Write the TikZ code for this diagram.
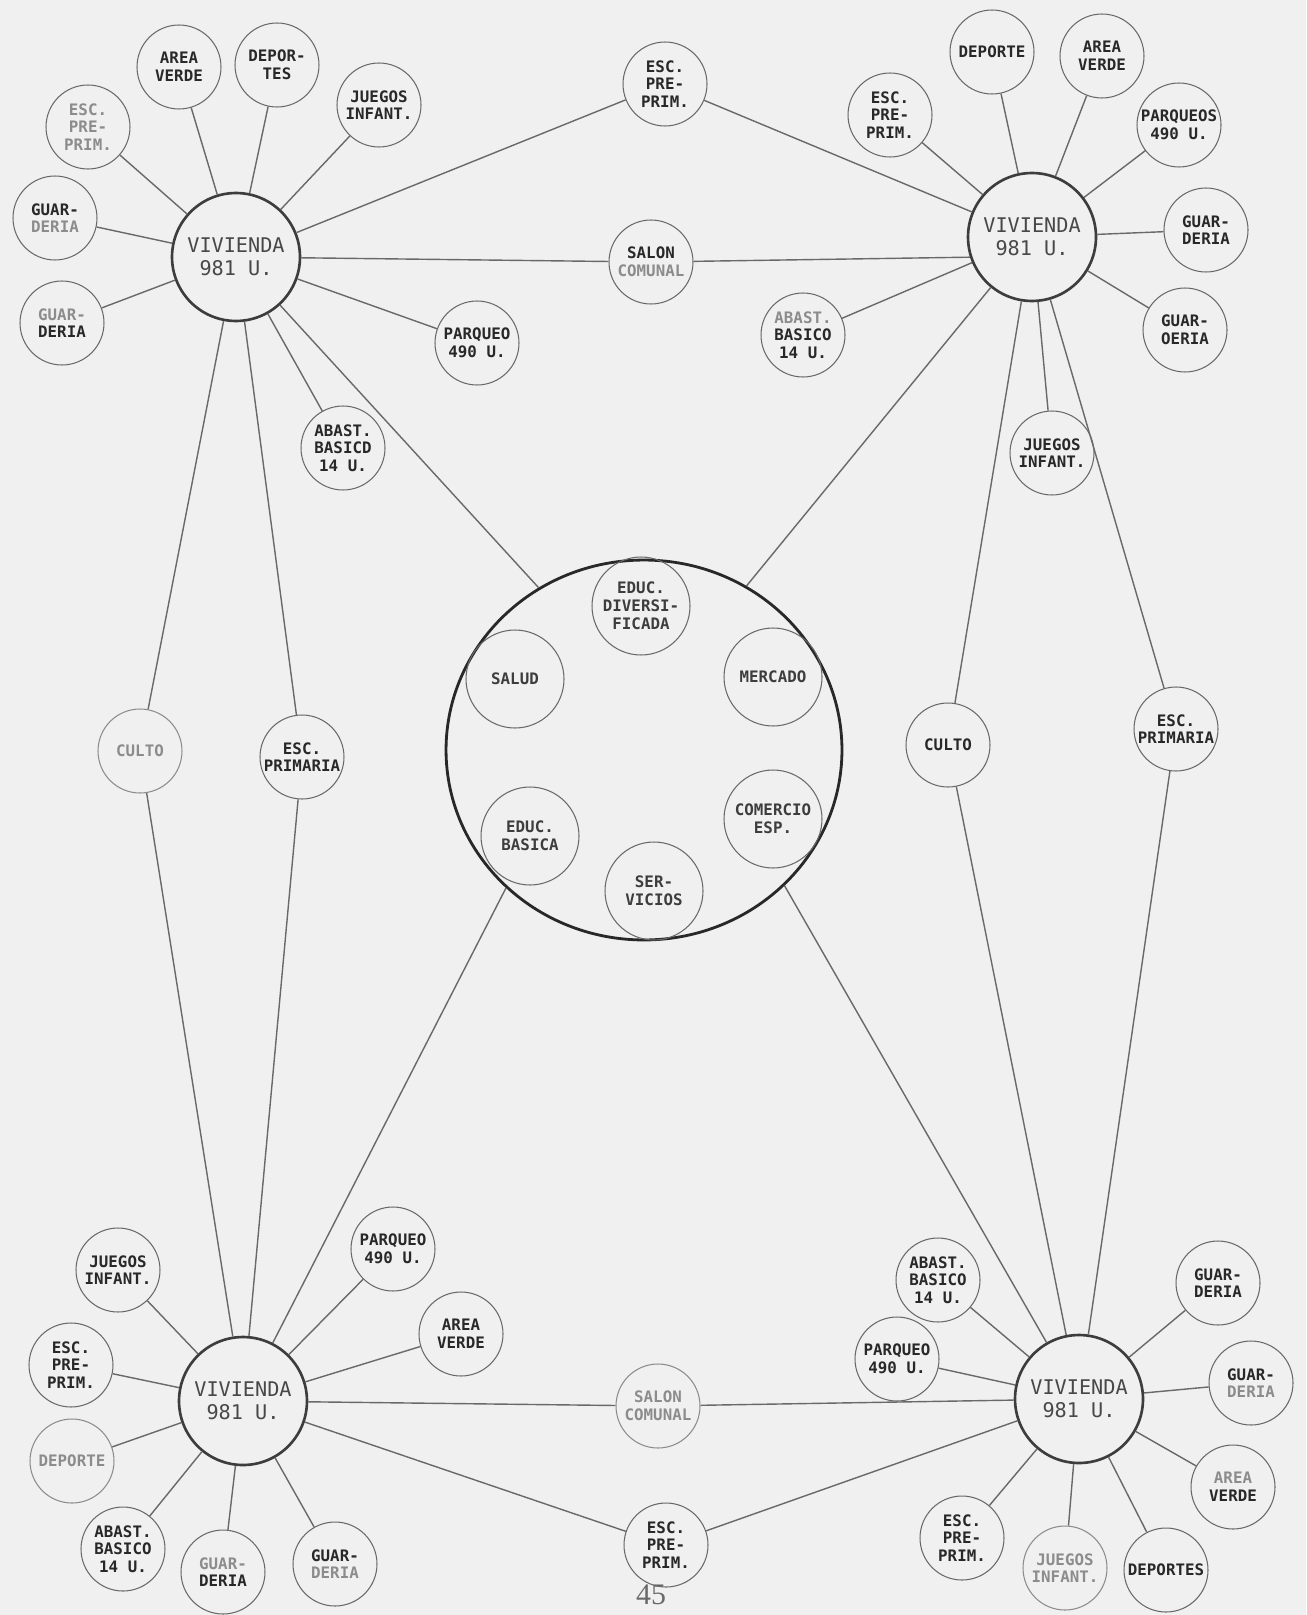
\documentclass[tikz,border=0pt]{standalone}
\usepackage{fontspec}
\usepackage{tikz}
\usetikzlibrary{shapes.geometric}
\usepackage{xcolor}
\setmainfont{Liberation Serif}
\newfontfamily\rotulo{DejaVu Sans Mono}
\definecolor{papel}{RGB}{240,240,240}
\definecolor{trazo}{RGB}{105,105,105}
\definecolor{tinta}{RGB}{40,40,40}
\definecolor{tenue}{RGB}{140,140,140}

\tikzset{
    enlace/.style={draw=trazo,line width=0.8pt},
    equipo/.style={circle,draw=trazo,line width=0.6pt,minimum size=1.68cm,inner sep=0pt,align=center,text=tinta,font=\rotulo\bfseries\fontsize{9}{10}\selectfont},
    equipotenue/.style={equipo,draw=tenue,text=tenue},
    vivienda/.style={circle,draw=tinta!90,line width=1.5pt,minimum size=2.56cm,inner sep=0pt,align=center,text=tinta!85,font=\rotulo\fontsize{11.5}{13}\selectfont},
    nucleo/.style={ellipse,draw=tinta,line width=1.6pt,minimum width=7.92cm,minimum height=7.6cm,inner sep=0pt},
    central/.style={circle,draw=trazo,line width=0.6pt,minimum size=1.96cm,inner sep=0pt,align=center,text=tinta!90,font=\rotulo\bfseries\fontsize{9}{10.2}\selectfont}
}

\begin{document}
\begin{tikzpicture}[x=0.02cm,y=-0.02cm]
        \path[use as bounding box,fill=papel] (0,0) rectangle (1306,1615);

        % Vivienda noroeste
        \node[vivienda] (vno) at (236,257) {VIVIENDA\\981 U.};
        \node[equipo] (no-area) at (179,67) {AREA\\VERDE};
        \node[equipo] (no-dep) at (277,65) {DEPOR-\\TES};
        \node[equipo] (no-jue) at (379,105) {JUEGOS\\INFANT.};
        \node[equipo,text=tenue] (no-esc) at (88,127) {ESC.\\PRE-\\PRIM.};
        \node[equipo] (no-gua1) at (55,218) {GUAR-\\\textcolor{tenue}{DERIA}};
        \node[equipo] (no-gua2) at (62,323) {\textcolor{tenue}{GUAR-}\\DERIA};
        \node[equipo] (no-par) at (477,343) {PARQUEO\\490 U.};
        \node[equipo] (no-aba) at (343,448) {ABAST.\\BASICD\\14 U.};

        % Vivienda noreste
        \node[vivienda] (vne) at (1032,237) {VIVIENDA\\981 U.};
        \node[equipo] (ne-dep) at (992,52) {DEPORTE};
        \node[equipo] (ne-area) at (1102,56) {AREA\\VERDE};
        \node[equipo] (ne-par) at (1179,125) {PARQUEOS\\490 U.};
        \node[equipo] (ne-esc) at (890,115) {ESC.\\PRE-\\PRIM.};
        \node[equipo] (ne-gua1) at (1206,230) {GUAR-\\DERIA};
        \node[equipo] (ne-gua2) at (1185,330) {GUAR-\\OERIA};
        \node[equipo] (ne-aba) at (803,335) {\textcolor{tenue}{ABAST.}\\BASICO\\14 U.};
        \node[equipo] (ne-jue) at (1052,453) {JUEGOS\\INFANT.};

        % Equipamiento compartido arriba
        \node[equipo] (n-esc) at (665,84) {ESC.\\PRE-\\PRIM.};
        \node[equipo] (n-sal) at (651,262) {SALON\\\textcolor{tenue}{COMUNAL}};

        % Centro
        \node[nucleo] (centro) at (644,750) {};
        \node[central] (c-div) at (641,606) {EDUC.\\DIVERSI-\\FICADA};
        \node[central] (c-sal) at (515,679) {SALUD};
        \node[central] (c-mer) at (773,677) {MERCADO};
        \node[central] (c-com) at (773,819) {COMERCIO\\ESP.};
        \node[central] (c-bas) at (530,836) {EDUC.\\BASICA};
        \node[central] (c-ser) at (654,891) {SER-\\VICIOS};

        % Equipamiento compartido a los lados
        \node[equipotenue] (o-cul) at (140,751) {CULTO};
        \node[equipo] (o-esc) at (302,757) {ESC.\\PRIMARIA};
        \node[equipo] (e-cul) at (948,745) {CULTO};
        \node[equipo] (e-esc) at (1176,729) {ESC.\\PRIMARIA};

        % Vivienda suroeste
        \node[vivienda] (vso) at (243,1401) {VIVIENDA\\981 U.};
        \node[equipo] (so-jue) at (118,1270) {JUEGOS\\INFANT.};
        \node[equipo] (so-esc) at (71,1365) {ESC.\\PRE-\\PRIM.};
        \node[equipotenue] (so-dep) at (72,1461) {DEPORTE};
        \node[equipo] (so-aba) at (123,1549) {ABAST.\\BASICO\\14 U.};
        \node[equipo] (so-gua1) at (223,1572) {\textcolor{tenue}{GUAR-}\\DERIA};
        \node[equipo] (so-gua2) at (335,1564) {GUAR-\\\textcolor{tenue}{DERIA}};
        \node[equipo] (so-par) at (393,1249) {PARQUEO\\490 U.};
        \node[equipo] (so-area) at (461,1334) {AREA\\VERDE};

        % Vivienda sureste
        \node[vivienda] (vse) at (1079,1399) {VIVIENDA\\981 U.};
        \node[equipo] (se-aba) at (938,1280) {ABAST.\\BASICO\\14 U.};
        \node[equipo] (se-par) at (897,1359) {PARQUEO\\490 U.};
        \node[equipo] (se-gua1) at (1218,1283) {GUAR-\\DERIA};
        \node[equipo] (se-gua2) at (1251,1383) {GUAR-\\\textcolor{tenue}{DERIA}};
        \node[equipo] (se-area) at (1233,1487) {\textcolor{tenue}{AREA}\\VERDE};
        \node[equipo] (se-dep) at (1166,1570) {DEPORTES};
        \node[equipotenue] (se-jue) at (1065,1568) {JUEGOS\\INFANT.};
        \node[equipo] (se-esc) at (962,1538) {ESC.\\PRE-\\PRIM.};

        % Equipamiento compartido abajo
        \node[equipotenue] (s-sal) at (658,1406) {SALON\\COMUNAL};
        \node[equipo] (s-esc) at (666,1545) {ESC.\\PRE-\\PRIM.};

        \node[text=trazo,font=\fontsize{17}{17}\selectfont] (pagina) at (651,1595) {45};

        % Enlaces de cada vivienda
        \draw[enlace] (vno) -- (no-area) (vno) -- (no-dep) (vno) -- (no-jue) (vno) -- (no-esc)
            (vno) -- (no-gua1) (vno) -- (no-gua2) (vno) -- (no-par) (vno) -- (no-aba);
        \draw[enlace] (vne) -- (ne-dep) (vne) -- (ne-area) (vne) -- (ne-par) (vne) -- (ne-esc)
            (vne) -- (ne-gua1) (vne) -- (ne-gua2) (vne) -- (ne-aba) (vne) -- (ne-jue);
        \draw[enlace] (vso) -- (so-jue) (vso) -- (so-esc) (vso) -- (so-dep) (vso) -- (so-aba)
            (vso) -- (so-gua1) (vso) -- (so-gua2) (vso) -- (so-par) (vso) -- (so-area);
        \draw[enlace] (vse) -- (se-aba) (vse) -- (se-par) (vse) -- (se-gua1) (vse) -- (se-gua2)
            (vse) -- (se-area) (vse) -- (se-dep) (vse) -- (se-jue) (vse) -- (se-esc);

        % Enlaces entre viviendas
        \draw[enlace] (vno) -- (n-esc) -- (vne);
        \draw[enlace] (vno) -- (n-sal) -- (vne.198);
        \draw[enlace] (vso) -- (s-sal) -- (vse);
        \draw[enlace] (vso) -- (s-esc) -- (vse);
        \draw[enlace] (vno) -- (o-cul) -- (vso);
        \draw[enlace] (vno) -- (o-esc) -- (vso);
        \draw[enlace] (vne) -- (e-cul) -- (vse);
        \draw[enlace] (vne) -- (e-esc) -- (vse);

        % Enlaces al centro
        \draw[enlace] (vno) -- (centro.123);
        \draw[enlace] (vne) -- (centro.58);
        \draw[enlace] (vso) -- (centro.225);
        \draw[enlace] (vse) -- (centro.316);
    \end{tikzpicture}
\end{document}
